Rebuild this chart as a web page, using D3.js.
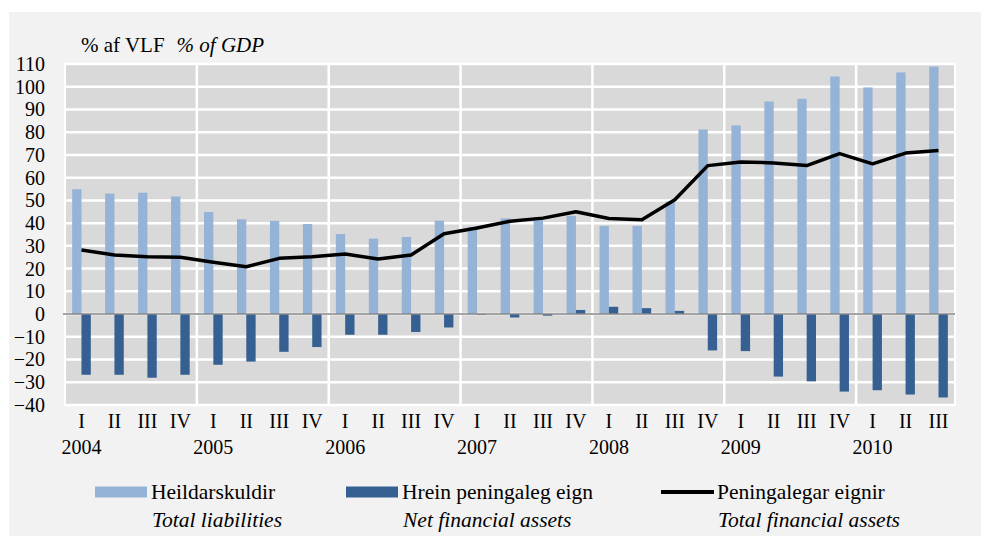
<!DOCTYPE html>
<html>
<head>
<meta charset="utf-8">
<script src="https://cdn.jsdelivr.net/npm/d3@7"></script>
<style>
  body { margin: 0; background: #fff; }
  svg text { font-family: "Liberation Serif", "Times New Roman", serif; fill: #000; }
</style>
</head>
<body>
<svg id="chart" width="981" height="536"></svg>
<script>
(function () {
    "use strict";

    var years = ["2004", "2005", "2006", "2007", "2008", "2009", "2010"];
    var quarterNames = ["I", "II", "III", "IV"];
    var yTicks = [-40, -30, -20, -10, 0, 10, 20, 30, 40, 50, 60, 70, 80, 90, 100, 110];

    // Heildarskuldir / Total liabilities
    var totalLiabilities = [54.9, 53.0, 53.4, 51.7, 44.9, 41.7, 41.0, 39.6, 35.2, 33.2, 33.9, 41.1,
        38.2, 42.1, 42.5, 43.2, 38.8, 38.8, 49.5, 81.2, 83.0, 93.5, 94.7, 104.5, 99.7, 106.3, 108.9];
    // Hrein peningaleg eign / Net financial assets
    var netAssets = [-26.7, -26.7, -28.0, -26.7, -22.3, -20.9, -16.6, -14.5, -9.1, -9.1, -7.9, -5.9,
        -0.3, -1.5, -0.7, 1.8, 3.2, 2.6, 1.4, -16.0, -16.3, -27.5, -29.6, -34.1, -33.5, -35.4, -36.7];
    // Peningalegar eignir / Total financial assets
    var totalAssets = [28.2, 26.0, 25.2, 25.0, 22.8, 20.8, 24.5, 25.2, 26.4, 24.2, 26.0, 35.3,
        37.9, 40.8, 42.2, 45.0, 42.0, 41.5, 50.3, 65.3, 66.9, 66.5, 65.3, 70.6, 66.1, 70.8, 72.0];

    var lightBlue = "#95b3d7", darkBlue = "#366092";
    var margin = { left: 65, top: 64, right: 26, bottom: 131 };
    var width = 981 - margin.left - margin.right;
    var height = 536 - margin.top - margin.bottom;

    // build the quarter keys from years x quarters, last year only has 3
    var periods = [];
    years.forEach(function (yr) {
        quarterNames.forEach(function (q) {
            if (periods.length < totalLiabilities.length) periods.push({ year: yr, q: q, key: yr + q });
        });
    });
    periods.forEach(function (p, i) {
        p.liab = totalLiabilities[i];
        p.net = netAssets[i];
        p.assets = totalAssets[i];
    });

    var x = d3.scaleBand().domain(periods.map(function (d) { return d.key; })).range([0, width]);
    var y = d3.scaleLinear().domain([-40, 110]).range([height, 0]);
    var bw = x.bandwidth() * 0.283;

    var svg = d3.select("#chart");
    svg.append("rect").attr("x", 9).attr("y", 12).attr("width", 972).attr("height", 524).attr("fill", "#f2f2f2");

    var chart = svg.append("g").attr("transform", "translate(" + margin.left + "," + margin.top + ")");

    chart.append("rect").attr("width", width).attr("height", height).attr("fill", "#d9d9d9")
        .attr("stroke", "#fff").attr("stroke-width", 2);

    // horizontal gridlines
    chart.selectAll("line.hgrid").data(yTicks).enter().append("line").attr("class", "hgrid")
        .attr("x1", 0).attr("x2", width)
        .attr("y1", function (d) { return y(d); }).attr("y2", function (d) { return y(d); })
        .attr("stroke", "#fff").attr("stroke-width", 2.5);

    // vertical gridlines at year boundaries
    var yearStarts = periods.filter(function (d, i) { return i > 0 && d.q === "I"; });
    chart.selectAll("line.vgrid").data(yearStarts).enter().append("line").attr("class", "vgrid")
        .attr("x1", function (d) { return x(d.key); }).attr("x2", function (d) { return x(d.key); })
        .attr("y1", 0).attr("y2", height)
        .attr("stroke", "#fff").attr("stroke-width", 2.5);

    var cx = function (d) { return x(d.key) + x.bandwidth() / 2; };

    chart.selectAll("rect.liab").data(periods).enter().append("rect").attr("class", "liab")
        .attr("x", function (d) { return cx(d) - bw; })
        .attr("width", bw)
        .attr("y", function (d) { return y(Math.max(0, d.liab)); })
        .attr("height", function (d) { return Math.abs(y(d.liab) - y(0)); })
        .attr("fill", lightBlue);

    chart.selectAll("rect.net").data(periods).enter().append("rect").attr("class", "net")
        .attr("x", cx)
        .attr("width", bw)
        .attr("y", function (d) { return y(Math.max(0, d.net)); })
        .attr("height", function (d) { return Math.abs(y(d.net) - y(0)); })
        .attr("fill", darkBlue);

    // zero line
    chart.append("line").attr("x1", -2).attr("x2", width).attr("y1", y(0)).attr("y2", y(0))
        .attr("stroke", "#868686").attr("stroke-width", 1.5);

    var assetsLine = d3.line().x(cx).y(function (d) { return y(d.assets); });
    chart.append("path").datum(periods).attr("d", assetsLine)
        .attr("fill", "none").attr("stroke", "#000").attr("stroke-width", 3.5)
        .attr("stroke-linejoin", "round");

    // y axis labels
    var yAxis = d3.axisLeft(y).tickValues(yTicks).tickSize(0).tickPadding(20);
    var yg = chart.append("g").call(yAxis);
    yg.select(".domain").remove();
    yg.selectAll("text").style("font-size", "20px");

    // quarter and year labels
    chart.selectAll("text.q").data(periods).enter().append("text").attr("class", "q")
        .attr("x", cx).attr("y", height + 23)
        .attr("text-anchor", "middle").style("font-size", "20px").text(function (d) { return d.q; });
    chart.selectAll("text.yr").data(periods.filter(function (d) { return d.q === "I"; })).enter()
        .append("text").attr("class", "yr")
        .attr("x", cx).attr("y", height + 49)
        .attr("text-anchor", "middle").style("font-size", "20px").text(function (d) { return d.year; });

    // unit title
    var title = svg.append("text").attr("x", 81).attr("y", 52).style("font-size", "21px");
    title.append("tspan").text("% af VLF");
    title.append("tspan").attr("dx", 12).attr("font-style", "italic").text("% of GDP");

    // legend
    var legendItems = [
        { x: 95, name: "Heildarskuldir", en: "Total liabilities", type: "bar", color: lightBlue },
        { x: 346, name: "Hrein peningaleg eign", en: "Net financial assets", type: "bar", color: darkBlue },
        { x: 661, name: "Peningalegar eignir", en: "Total financial assets", type: "line", color: "#000" }
    ];
    var lg = svg.selectAll("g.legend").data(legendItems).enter().append("g").attr("class", "legend")
        .attr("transform", function (d) { return "translate(" + d.x + ",492)"; });
    lg.filter(function (d) { return d.type === "bar"; }).append("rect")
        .attr("x", 0).attr("y", -5.5).attr("width", 52).attr("height", 11)
        .attr("fill", function (d) { return d.color; });
    lg.filter(function (d) { return d.type === "line"; }).append("line")
        .attr("x1", 0).attr("x2", 53).attr("y1", 0).attr("y2", 0)
        .attr("stroke", "#000").attr("stroke-width", 4);
    lg.append("text").attr("x", 56).attr("y", 7)
        .style("font-size", "21.5px").text(function (d) { return d.name; });
    lg.append("text").attr("x", 57).attr("y", 35)
        .style("font-size", "21.5px").attr("font-style", "italic").text(function (d) { return d.en; });
})();
</script>
</body>
</html>
